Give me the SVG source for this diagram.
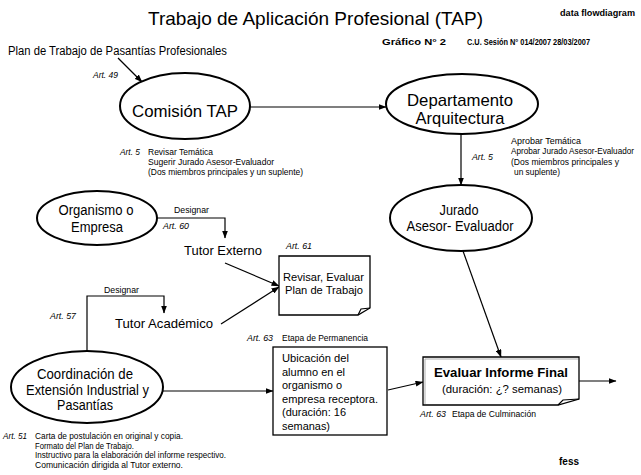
<svg xmlns="http://www.w3.org/2000/svg" width="641" height="475" viewBox="0 0 641 475">
<style>
text{font-family:"Liberation Sans",Arial,sans-serif;fill:#000}
.big{font-size:17px}
.mid{font-size:14px}
.tut{font-size:13px}
.box{font-size:11px}
.sm{font-size:9px}
.sm8{font-size:8.2px}
.it{font-size:9px;font-style:italic}
.b{font-weight:bold}
.c{text-anchor:middle}
.ell{fill:#fff;stroke:#000;stroke-width:2}
.rect{fill:#fff;stroke:#000;stroke-width:1.3}
.ln{fill:none;stroke:#000;stroke-width:1.2}
</style>
<defs>
<marker id="a" markerWidth="8" markerHeight="6" refX="7.5" refY="3" orient="auto" markerUnits="userSpaceOnUse">
<path d="M0,0 L8,3 L0,6 Z" fill="#000"/>
</marker>
</defs>
<rect width="641" height="475" fill="#fff"/>

<g id="header">
<text x="148" y="25" font-size="18.5" textLength="335" lengthAdjust="spacingAndGlyphs">Trabajo de Aplicación Profesional (TAP)</text>
<text x="560" y="16" class="sm8 b" textLength="75" lengthAdjust="spacingAndGlyphs">data flowdiagram</text>
<text x="382" y="45" class="sm b" textLength="64" lengthAdjust="spacingAndGlyphs">Gráfico N° 2</text>
<text x="467" y="45" class="sm b" textLength="123" lengthAdjust="spacingAndGlyphs">C.U. Sesión N° 014/2007  28/03/2007</text>
<text x="8" y="55" font-size="12" textLength="219" lengthAdjust="spacingAndGlyphs">Plan de Trabajo de Pasantías Profesionales</text>
</g>

<g id="connectors">
<line class="ln" x1="118" y1="58" x2="142" y2="82" marker-end="url(#a)"/>
<line class="ln" x1="250" y1="107" x2="386" y2="107" marker-end="url(#a)"/>
<line class="ln" x1="461" y1="134" x2="461" y2="185" marker-end="url(#a)"/>
<polyline class="ln" points="157,218 225,218 225,238" marker-end="url(#a)"/>
<line class="ln" x1="225" y1="263" x2="279" y2="286" marker-end="url(#a)"/>
<line class="ln" x1="221" y1="324" x2="279" y2="287" marker-end="url(#a)"/>
<polyline class="ln" points="87,351 87,296 164,296 164,313" marker-end="url(#a)"/>
<line class="ln" x1="162" y1="391" x2="273" y2="391" marker-end="url(#a)"/>
<line class="ln" x1="388" y1="390" x2="423" y2="382" marker-end="url(#a)"/>
<line class="ln" x1="463" y1="251" x2="501" y2="357" marker-end="url(#a)"/>
<line class="ln" x1="579" y1="381" x2="616" y2="381" marker-end="url(#a)"/>
</g>

<g id="comision">
<ellipse class="ell" cx="185" cy="106" rx="65" ry="33"/>
<text x="185" y="117" class="big c" textLength="106" lengthAdjust="spacingAndGlyphs">Comisión TAP</text>
</g>
<g id="comision-notes">
<text x="93" y="78" class="it" textLength="25" lengthAdjust="spacingAndGlyphs">Art. 49</text>
<text x="120" y="155" class="it" textLength="20" lengthAdjust="spacingAndGlyphs">Art. 5</text>
<text x="148" y="155" class="sm" textLength="65" lengthAdjust="spacingAndGlyphs">Revisar Temática</text>
<text x="148" y="165" class="sm" textLength="126" lengthAdjust="spacingAndGlyphs">Sugerir Jurado Asesor-Evaluador</text>
<text x="148" y="175" class="sm" textLength="155" lengthAdjust="spacingAndGlyphs">(Dos miembros principales y un suplente)</text>
</g>

<g id="departamento">
<ellipse class="ell" cx="462" cy="104" rx="76" ry="30"/>
<text x="460" y="106" class="big c" textLength="106" lengthAdjust="spacingAndGlyphs">Departamento</text>
<text x="460" y="124" class="big c" textLength="89" lengthAdjust="spacingAndGlyphs">Arquitectura</text>
</g>
<g id="departamento-notes">
<text x="472" y="160" class="it" textLength="21" lengthAdjust="spacingAndGlyphs">Art. 5</text>
<text x="511" y="144" class="sm" textLength="70" lengthAdjust="spacingAndGlyphs">Aprobar Temática</text>
<text x="511" y="154" class="sm8" textLength="123" lengthAdjust="spacingAndGlyphs">Aprobar Jurado Asesor-Evaluador</text>
<text x="511" y="165" class="sm" textLength="108" lengthAdjust="spacingAndGlyphs">(Dos miembros principales y</text>
<text x="514" y="175" class="sm" textLength="46" lengthAdjust="spacingAndGlyphs">un suplente)</text>
</g>

<g id="jurado">
<ellipse class="ell" cx="461" cy="218" rx="71" ry="33"/>
<text x="459" y="215" class="mid c" textLength="39" lengthAdjust="spacingAndGlyphs">Jurado</text>
<text x="460" y="231" class="mid c" textLength="107" lengthAdjust="spacingAndGlyphs">Asesor- Evaluador</text>
</g>

<g id="organismo">
<ellipse class="ell" cx="97" cy="218" rx="60" ry="27"/>
<text x="96" y="215" class="mid c" textLength="75" lengthAdjust="spacingAndGlyphs">Organismo o</text>
<text x="97" y="232" class="mid c" textLength="52" lengthAdjust="spacingAndGlyphs">Empresa</text>
</g>
<g id="designar-externo">
<text x="174" y="213" class="sm" textLength="35" lengthAdjust="spacingAndGlyphs">Designar</text>
<text x="163" y="229" class="it" textLength="26" lengthAdjust="spacingAndGlyphs">Art. 60</text>
</g>

<g id="tutor-externo">
<text x="184" y="255" class="tut" textLength="78" lengthAdjust="spacingAndGlyphs">Tutor Externo</text>
</g>

<g id="revisar">
<text x="286" y="249" class="it" textLength="26" lengthAdjust="spacingAndGlyphs">Art. 61</text>
<path class="rect" d="M279,256 H370 V308 L358,315 H279 Z"/>
<path class="ln" d="M358,315 L361,309 L370,308" stroke-width="1"/>
<text x="323.5" y="281" class="box c" textLength="81" lengthAdjust="spacingAndGlyphs">Revisar, Evaluar</text>
<text x="324" y="294" class="box c" textLength="78" lengthAdjust="spacingAndGlyphs">Plan de Trabajo</text>
</g>

<g id="designar-academico">
<text x="104" y="293" class="sm" textLength="35" lengthAdjust="spacingAndGlyphs">Designar</text>
<text x="50" y="319" class="it" textLength="26" lengthAdjust="spacingAndGlyphs">Art. 57</text>
</g>

<g id="tutor-academico">
<text x="115" y="328" class="tut" textLength="98" lengthAdjust="spacingAndGlyphs">Tutor Académico</text>
</g>

<g id="coordinacion">
<ellipse class="ell" cx="87" cy="387" rx="76" ry="36"/>
<text x="85" y="379" class="mid c" textLength="96" lengthAdjust="spacingAndGlyphs">Coordinación de</text>
<text x="87.5" y="395" class="mid c" textLength="123" lengthAdjust="spacingAndGlyphs">Extensión Industrial y</text>
<text x="85" y="410" class="mid c" textLength="56" lengthAdjust="spacingAndGlyphs">Pasantías</text>
</g>
<g id="coordinacion-notes">
<text x="3" y="439" class="it" textLength="24" lengthAdjust="spacingAndGlyphs">Art. 51</text>
<text x="35" y="439" class="sm" textLength="148" lengthAdjust="spacingAndGlyphs">Carta de postulación en original y copia.</text>
<text x="35" y="448.5" class="sm" textLength="99" lengthAdjust="spacingAndGlyphs">Formato del Plan de Trabajo.</text>
<text x="35" y="458" class="sm" textLength="191" lengthAdjust="spacingAndGlyphs">Instructivo para la elaboración del informe respectivo.</text>
<text x="35" y="467.5" class="sm" textLength="148" lengthAdjust="spacingAndGlyphs">Comunicación dirigida al Tutor externo.</text>
</g>

<g id="ubicacion">
<text x="247" y="341" class="it" textLength="26" lengthAdjust="spacingAndGlyphs">Art. 63</text>
<text x="282" y="341" class="sm" textLength="86" lengthAdjust="spacingAndGlyphs">Etapa de Permanencia</text>
<rect class="rect" x="273" y="347" width="114" height="88"/>
<text x="282" y="362" class="box" textLength="67" lengthAdjust="spacingAndGlyphs">Ubicación del</text>
<text x="282" y="376" class="box" textLength="63" lengthAdjust="spacingAndGlyphs">alumno en el</text>
<text x="282" y="389" class="box" textLength="60" lengthAdjust="spacingAndGlyphs">organismo o</text>
<text x="282" y="403" class="box" textLength="96" lengthAdjust="spacingAndGlyphs">empresa receptora.</text>
<text x="282" y="416" class="box" textLength="64" lengthAdjust="spacingAndGlyphs">(duración: 16</text>
<text x="282" y="430" class="box" textLength="48" lengthAdjust="spacingAndGlyphs">semanas)</text>
</g>

<g id="evaluar">
<path class="rect" d="M423,357 H579 V399 L558,405 H423 Z"/>
<path d="M425,404 V359 H578" fill="none" stroke="#b0b0b0" stroke-width="1"/>
<path class="ln" d="M558,405 L563,400 L579,399" stroke-width="1"/>
<text x="501" y="377" font-size="13.5" class="b c" textLength="134" lengthAdjust="spacingAndGlyphs">Evaluar Informe Final</text>
<text x="502" y="393" class="box c" textLength="120" lengthAdjust="spacingAndGlyphs">(duración: ¿? semanas)</text>
<text x="420" y="417" class="it" textLength="26" lengthAdjust="spacingAndGlyphs">Art. 63</text>
<text x="452" y="417" class="sm" textLength="84" lengthAdjust="spacingAndGlyphs">Etapa de Culminación</text>
</g>

<g id="footer">
<text x="559" y="465" font-size="10" class="b">fess</text>
</g>
</svg>
